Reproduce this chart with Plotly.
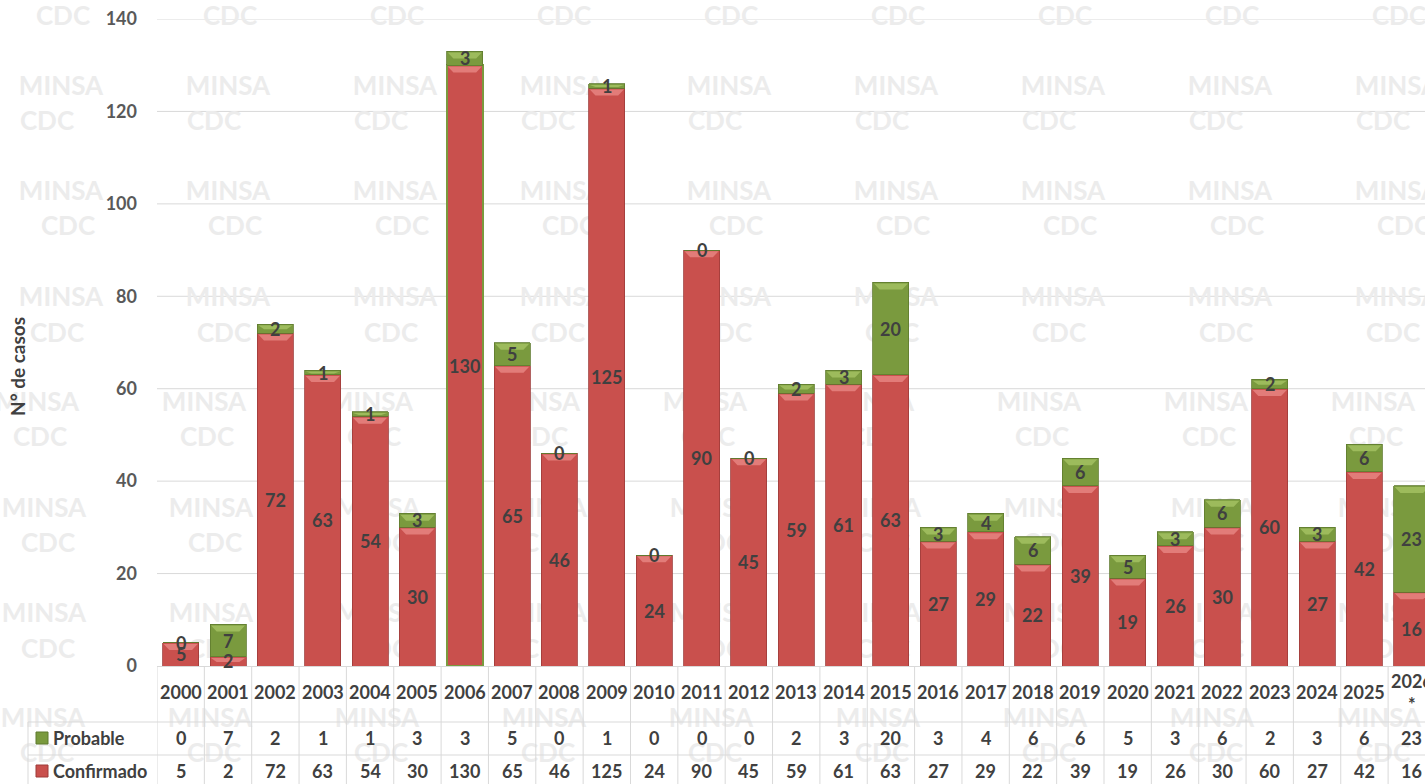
import plotly.graph_objects as go

years = ["2000", "2001", "2002", "2003", "2004", "2005", "2006", "2007", "2008", "2009",
         "2010", "2011", "2012", "2013", "2014", "2015", "2016", "2017", "2018", "2019",
         "2020", "2021", "2022", "2023", "2024", "2025", "2026<br>*"]
probable = [0, 7, 2, 1, 1, 3, 3, 5, 0, 1, 0, 0, 0, 2, 3, 20, 3, 4, 6, 6, 5, 3, 6, 2, 3, 6, 23]
confirmado = [5, 2, 72, 63, 54, 30, 130, 65, 46, 125, 24, 90, 45, 59, 61, 63, 27, 29, 22, 39,
              19, 26, 30, 60, 27, 42, 16]
series_names = ["Probable", "Confirmado"]
y_ticks = [0, 20, 40, 60, 80, 100, 120, 140]

W, H = 1425, 784
L, R, T = 157, 0, 19
Y0 = 666
B = H - Y0
PW = W - L - R
PH = H - T - B
CAT_W = 47.35
BAR_W = 0.76

FONT = "Lato"
TXT = "#404040"
RED = "#C9504D"
RED_EDGE = "#9E3B39"
RED_TOP = "#E27C79"
GREEN = "#7A9A3E"
GREEN_EDGE = "#5F7A2E"
GREEN_TOP = "#9DBB5C"
GRID = "#D9D9D9"
WM = "#ECECEC"


def px(x):
    # x in page pixels -> paper
    return (x - L) / PW


def py(y):
    # y in page pixels -> paper
    return (Y0 - y) / PH


idx = list(range(len(years)))
xmax = -0.5 + PW / CAT_W
units_per_px = 140 / PH

fig = go.Figure()

conf_line_colors = [GREEN if c == max(confirmado) else RED_EDGE for c in confirmado]
conf_line_widths = [2 if c == max(confirmado) else 0.8 for c in confirmado]

fig.add_trace(go.Bar(
    x=idx, y=confirmado, name="Confirmado", width=BAR_W,
    marker=dict(color=RED, line=dict(color=conf_line_colors, width=conf_line_widths)),
    hoverinfo="skip", cliponaxis=True,
))
fig.add_trace(go.Bar(
    x=idx, y=probable, name="Probable", width=BAR_W,
    marker=dict(color=GREEN, line=dict(color=GREEN_EDGE, width=0.8)),
    hoverinfo="skip", cliponaxis=True,
))

shapes = []
# horizontal gridlines drawn as shapes under the bars
for v in y_ticks[1:]:
    shapes.append(dict(type="line", xref="paper", yref="y", x0=0, x1=1, y0=v, y1=v,
                       line=dict(color=GRID, width=1), layer="below"))

# bevel highlight at the top of each segment
for i, (c, p) in enumerate(zip(confirmado, probable)):
    for base, h, col in ((0, c, RED_TOP), (c, p, GREEN_TOP)):
        if h <= 0:
            continue
        band = min(6 * units_per_px, h * 0.45)
        top = base + h - 1.2 * units_per_px
        shapes.append(dict(type="path", xref="x", yref="y",
                           path=(f"M {i - BAR_W / 2 + 0.02},{top} L {i + BAR_W / 2 - 0.02},{top} "
                                 f"L {i + BAR_W / 2 - 0.14},{top - band} L {i - BAR_W / 2 + 0.14},{top - band} Z"),
                           fillcolor=col, line=dict(width=0), layer="above"))

annotations = []
lab_font = dict(family=FONT, size=18, color=TXT)
# data labels
for i, (c, p) in enumerate(zip(confirmado, probable)):
    annotations.append(dict(x=i, y=c / 2, xref="x", yref="y", text=f"<b>{c}</b>",
                            showarrow=False, xanchor="center", yanchor="middle", font=lab_font))
    annotations.append(dict(x=i, y=c + p / 2, xref="x", yref="y", text=f"<b>{p}</b>",
                            showarrow=False, xanchor="center", yanchor="middle", font=lab_font))

# y axis title
annotations.append(dict(x=px(18), y=py(367), xref="paper", yref="paper",
                        text="<b>N° de casos</b>", textangle=-90, showarrow=False,
                        xanchor="center", yanchor="middle",
                        font=dict(family=FONT, size=19, color=TXT)))

# watermarks (behind everything)
wm_rows = [
    ("CDC", 15, 63), ("MINSA", 85, 61), ("CDC", 120, 47), ("MINSA", 190, 61),
    ("CDC", 225, 68), ("MINSA", 296, 61), ("CDC", 332, 57), ("MINSA", 401, 37),
    ("CDC", 436, 40), ("MINSA", 507, 44), ("CDC", 542, 48), ("MINSA", 612, 44),
    ("CDC", 648, 48), ("MINSA", 717, 43), ("CDC", 752, 47),
]
for word, yy, x0 in wm_rows:
    for k in range(9):
        xc = x0 + k * 167
        if xc > W + 30:
            continue
        shapes.append(dict(type="rect", xref="paper", yref="paper",
                           x0=px(xc - 50), x1=px(xc + 50), y0=py(yy + 14), y1=py(yy - 14),
                           line=dict(width=0), fillcolor="rgba(0,0,0,0)", layer="below",
                           label=dict(text=f"<b>{word}</b>", textposition="middle center",
                                      font=dict(family=FONT, size=26, color=WM))))

# data table
row_head_top, row_p_top, row_c_top = 666, 722, 755
left_x = 28
tline = dict(color=GRID, width=1)
for i in range(len(years) + 1):
    shapes.append(dict(type="line", xref="x", yref="paper", x0=i - 0.5, x1=i - 0.5,
                       y0=py(row_head_top), y1=py(790), line=tline))
shapes.append(dict(type="line", xref="paper", yref="paper", x0=px(left_x), x1=px(left_x),
                   y0=py(row_p_top), y1=py(790), line=tline))
for yy in (row_p_top, row_c_top):
    shapes.append(dict(type="line", xref="paper", yref="paper", x0=px(left_x), x1=1,
                       y0=py(yy), y1=py(yy), line=tline))

for i, yr in enumerate(years):
    annotations.append(dict(x=i, y=py(692), xref="x", yref="paper", text=f"<b>{yr}</b>",
                            showarrow=False, xanchor="center", yanchor="middle", font=lab_font))
    annotations.append(dict(x=i, y=py(738), xref="x", yref="paper", text=f"<b>{probable[i]}</b>",
                            showarrow=False, xanchor="center", yanchor="middle", font=lab_font))
    annotations.append(dict(x=i, y=py(771), xref="x", yref="paper", text=f"<b>{confirmado[i]}</b>",
                            showarrow=False, xanchor="center", yanchor="middle", font=lab_font))

# legend keys in table
for name, yy, col, edge in ((series_names[0], 738, GREEN, GREEN_EDGE),
                            (series_names[1], 771, RED, RED_EDGE)):
    shapes.append(dict(type="rect", xref="paper", yref="paper",
                       x0=px(36), x1=px(48), y0=py(yy + 6), y1=py(yy - 6),
                       fillcolor=col, line=dict(color=edge, width=1)))
    annotations.append(dict(x=px(51), y=py(yy), xref="paper", yref="paper",
                            text=f"<b>{name}</b>", xanchor="left", yanchor="middle",
                            showarrow=False, font=lab_font))

fig.update_layout(
    width=W, height=H,
    margin=dict(l=L, r=R, t=T, b=B, pad=0, autoexpand=False),
    barmode="stack",
    showlegend=False,
    paper_bgcolor="white",
    plot_bgcolor="rgba(0,0,0,0)",
    font=dict(family=FONT, color=TXT),
    xaxis=dict(range=[-0.5, xmax], showticklabels=False, showgrid=False, zeroline=False,
               showline=True, linecolor=GRID, linewidth=1, ticks="", fixedrange=True,
               automargin=False),
    yaxis=dict(range=[0, 140], tickvals=y_ticks,
               showgrid=False, zeroline=False, showline=False, ticks="",
               ticklabelstandoff=19, ticklabeloverflow="allow", automargin=False,
               tickfont=dict(family=FONT, size=18, color="#595959", weight=700)),
    annotations=annotations,
    shapes=shapes,
)

fig.write_html("out.html",
               config={"displayModeBar": False},
               post_script="document.body.style.margin='0';document.body.style.overflow='hidden';")
